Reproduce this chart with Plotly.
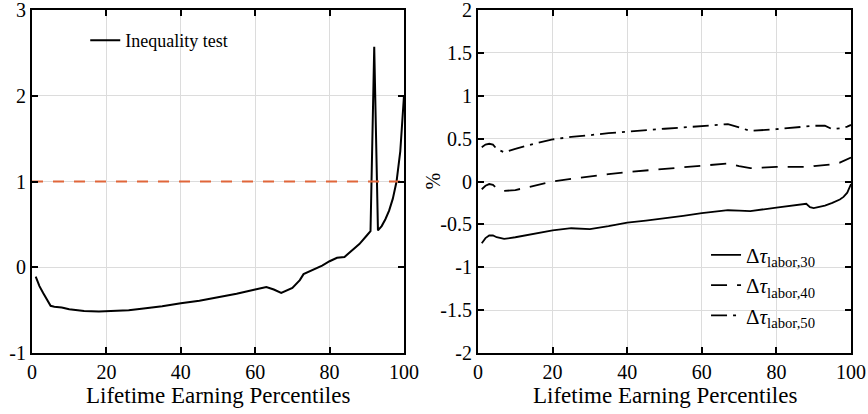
import plotly.graph_objects as go

# ---- data ----
ineq_x = [1, 2, 3, 4, 5, 6, 8, 10, 14, 18, 22, 26, 30, 35, 40, 45, 50, 55, 60, 63, 65, 67, 70, 72, 73, 75, 78, 80, 82, 84, 86, 88, 90, 91, 92, 93, 94, 95, 96, 97, 98, 99, 100]
ineq_y = [-0.11, -0.22, -0.30, -0.38, -0.45, -0.46, -0.47, -0.49, -0.51, -0.515, -0.51, -0.50, -0.48, -0.455, -0.42, -0.39, -0.35, -0.31, -0.26, -0.23, -0.26, -0.30, -0.24, -0.15, -0.08, -0.04, 0.02, 0.07, 0.11, 0.12, 0.20, 0.27, 0.37, 0.42, 2.57, 0.43, 0.48, 0.56, 0.66, 0.80, 1.00, 1.35, 2.0]
ref_x = [0, 100]
ref_y = [1, 1]

pct_x = [1, 2, 3, 4, 5, 7, 10, 15, 20, 25, 30, 35, 40, 45, 50, 55, 60, 67, 70, 73, 80, 87, 88, 89, 90, 93, 95, 97, 98, 99, 100]
tau30 = [-0.72, -0.66, -0.63, -0.63, -0.65, -0.67, -0.65, -0.61, -0.57, -0.545, -0.555, -0.52, -0.48, -0.455, -0.43, -0.40, -0.37, -0.335, -0.34, -0.345, -0.305, -0.265, -0.26, -0.30, -0.31, -0.28, -0.25, -0.21, -0.18, -0.13, -0.03]
tau40 = [-0.09, -0.05, -0.03, -0.04, -0.08, -0.11, -0.10, -0.05, 0.00, 0.03, 0.06, 0.085, 0.11, 0.13, 0.15, 0.17, 0.19, 0.21, 0.18, 0.155, 0.17, 0.165, 0.165, 0.17, 0.18, 0.19, 0.20, 0.22, 0.24, 0.26, 0.28]
tau50 = [0.40, 0.43, 0.44, 0.43, 0.38, 0.34, 0.38, 0.44, 0.49, 0.52, 0.54, 0.565, 0.58, 0.60, 0.615, 0.63, 0.645, 0.67, 0.63, 0.59, 0.61, 0.635, 0.64, 0.645, 0.65, 0.65, 0.61, 0.62, 0.63, 0.64, 0.66]

left_yticks = [-1, 0, 1, 2, 3]
left_yticklabels = ["-1", "0", "1", "2", "3"]
right_yticks = [-2, -1.5, -1, -0.5, 0, 0.5, 1, 1.5, 2]
right_yticklabels = ["-2", "-1.5", "-1", "-0.5", "0", "0.5", "1", "1.5", "2"]
xticks = [0, 20, 40, 60, 80, 100]
xticklabels = ["0", "20", "40", "60", "80", "100"]
x_title = "Lifetime Earning Percentiles"
y2_title = "%"

FONT = "Times New Roman, Liberation Serif, DejaVu Serif, serif"
fig = go.Figure()

fig.add_trace(go.Scatter(x=ineq_x, y=ineq_y, mode="lines", name="Inequality test",
                         line=dict(color="black", width=2), xaxis="x", yaxis="y", legend="legend"))
fig.add_trace(go.Scatter(x=ref_x, y=ref_y, mode="lines", showlegend=False,
                         line=dict(color="#E0663A", width=2, dash="11px,10px"), xaxis="x", yaxis="y"))

fig.add_trace(go.Scatter(x=pct_x, y=tau30, mode="lines", name="Δ<i>τ</i><sub>labor,30</sub>",
                         line=dict(color="black", width=1.8), xaxis="x2", yaxis="y2", legend="legend2"))
fig.add_trace(go.Scatter(x=pct_x, y=tau40, mode="lines", name="Δ<i>τ</i><sub>labor,40</sub>",
                         line=dict(color="black", width=1.8, dash="16px,10px"), xaxis="x2", yaxis="y2", legend="legend2"))
fig.add_trace(go.Scatter(x=pct_x, y=tau50, mode="lines", name="Δ<i>τ</i><sub>labor,50</sub>",
                         line=dict(color="black", width=1.8, dash="16px,6px,3px,6px"), xaxis="x2", yaxis="y2", legend="legend2"))

axis_common = dict(showline=True, linecolor="black", linewidth=2, mirror="ticks",
                   ticks="inside", ticklen=6, tickcolor="black", tickwidth=1.5,
                   showgrid=True, gridcolor="#DCDCDC", gridwidth=1.2, zeroline=False, automargin=False,
                   ticklabeloverflow="allow",
                   tickfont=dict(family=FONT, size=20, color="black"))

L_DOM = [0, 0.4542]
R_DOM = [0.5446, 1]

fig.update_layout(
    width=868, height=414,
    margin=dict(l=32, r=17, t=10, b=61),
    paper_bgcolor="white", plot_bgcolor="white",
    font=dict(family=FONT, size=19, color="black"),
    xaxis=dict(domain=L_DOM, range=[0, 100], tickvals=xticks, ticktext=xticklabels, **axis_common),
    yaxis=dict(range=[-1, 3], tickvals=left_yticks, ticktext=left_yticklabels, anchor="x", **axis_common),
    xaxis2=dict(domain=R_DOM, range=[0, 100], tickvals=xticks, ticktext=xticklabels, anchor="y2", **axis_common),
    yaxis2=dict(range=[-2, 2], tickvals=right_yticks, ticktext=right_yticklabels, anchor="x2", **axis_common),
    legend=dict(x=0.065, y=0.965, xanchor="left", yanchor="top", bgcolor="rgba(255,255,255,0)",
                font=dict(family=FONT, size=18)),
    legend2=dict(x=0.823, y=0.345, xanchor="left", yanchor="top", bgcolor="rgba(255,255,255,0)",
                 font=dict(family=FONT, size=21), tracegroupgap=0),
    annotations=[
        dict(text=y2_title, xref="paper", yref="paper", x=(432 - 32) / 819, y=0.5,
             xanchor="center", yanchor="middle", showarrow=False, textangle=-90,
             font=dict(family=FONT, size=20, color="black")),
        dict(text=x_title, xref="paper", yref="paper", x=sum(L_DOM) / 2, y=-0.125,
             xanchor="center", yanchor="middle", showarrow=False,
             font=dict(family=FONT, size=23, color="black")),
        dict(text=x_title, xref="paper", yref="paper", x=sum(R_DOM) / 2, y=-0.125,
             xanchor="center", yanchor="middle", showarrow=False,
             font=dict(family=FONT, size=23, color="black")),
    ],
)

fig.write_html("out.html", config={"displayModeBar": False},
               post_script="document.body.style.margin='0';")
